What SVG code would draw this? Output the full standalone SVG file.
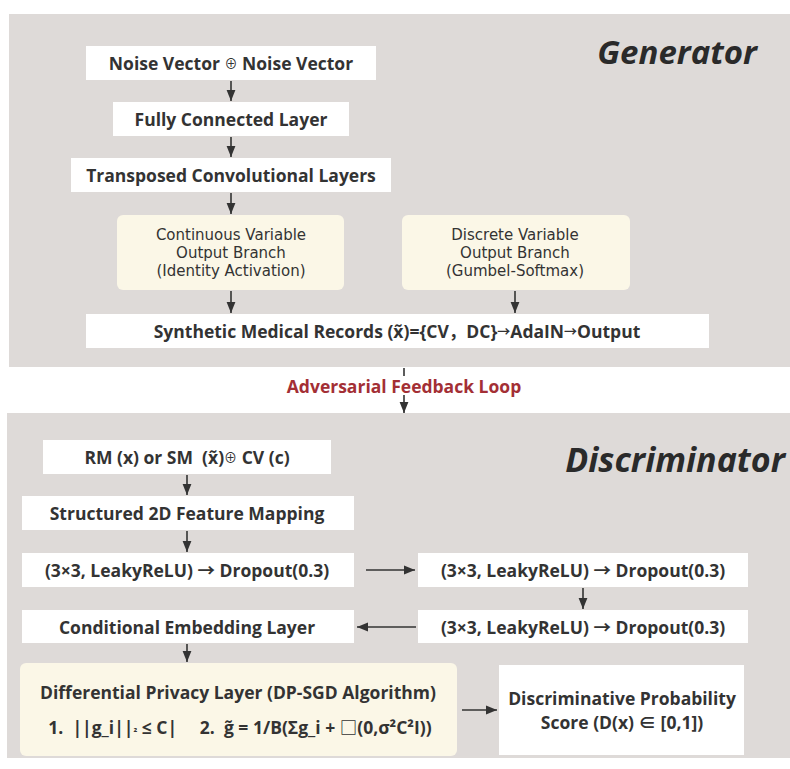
<svg xmlns="http://www.w3.org/2000/svg" width="790" height="769" viewBox="0 0 790 769">
<defs>
<marker id="ah" viewBox="0 0 10 10" refX="10" refY="5" markerWidth="11" markerHeight="11" markerUnits="userSpaceOnUse" orient="auto">
<path d="M0,1 L10,5 L0,9 Z" fill="#333"/>
</marker>
</defs>
<style>
.panel{fill:#dedad8}
.box{fill:#ffffff}
.cream{fill:#fbf7e7}
.t{font-family:"Open Sans","Noto Sans","Noto Sans CJK SC","DejaVu Sans",sans-serif;font-size:17.5px;font-weight:bold;fill:#333;text-anchor:middle;dominant-baseline:central}
.r{font-family:"DejaVu Sans",sans-serif;font-size:15px;fill:#333;text-anchor:middle;dominant-baseline:central}
.title{font-family:"Open Sans","Noto Sans","DejaVu Sans",sans-serif;font-weight:bold;font-style:italic;fill:#2a2a2a;text-anchor:end}
.c{stroke:#333;stroke-width:1.6;fill:none}
.ca{stroke:#333;stroke-width:1.6;fill:none;marker-end:url(#ah)}
</style>
<rect width="790" height="769" fill="#ffffff"/>
<g id="generator-panel">
<rect class="panel" x="9" y="14" width="781" height="353"/>
<text class="title" x="757" y="64" font-size="33">Generator</text>
</g>
<g id="discriminator-panel">
<rect class="panel" x="7" y="413" width="783" height="345"/>
<text class="title" x="785" y="472" font-size="34">Discriminator</text>
</g>
<g id="noise">
<rect class="box" x="86" y="46" width="290" height="34"/>
<text class="t" x="231" y="63">Noise Vector <tspan font-size="13" font-weight="normal">⊕</tspan> Noise Vector</text>
</g>
<g id="fc">
<rect class="box" x="113" y="102" width="236" height="34"/>
<text class="t" x="231" y="119">Fully Connected Layer</text>
</g>
<g id="tconv">
<rect class="box" x="71" y="158" width="320" height="34"/>
<text class="t" x="231" y="175">Transposed Convolutional Layers</text>
</g>
<g id="cont">
<rect class="cream" x="117" y="215" width="227" height="75" rx="6"/>
<text class="r" x="231" y="235">Continuous Variable</text>
<text class="r" x="231" y="253">Output Branch</text>
<text class="r" x="231" y="271">(Identity Activation)</text>
</g>
<g id="disc-branch">
<rect class="cream" x="402" y="215" width="228" height="75" rx="6"/>
<text class="r" x="515" y="235">Discrete Variable</text>
<text class="r" x="515" y="253">Output Branch</text>
<text class="r" x="515" y="271">(Gumbel-Softmax)</text>
</g>
<g id="synthetic">
<rect class="box" x="86" y="314" width="623" height="34"/>
<text class="t" x="397" y="331">Synthetic Medical Records (x̃)={CV，DC}<tspan font-size="13">→</tspan>AdaIN<tspan font-size="13">→</tspan>Output</text>
</g>
<g id="feedback">
<text class="t" x="404" y="386" style="fill:#a32f35">Adversarial Feedback Loop</text>
</g>
<g id="rm">
<rect class="box" x="43" y="440" width="288" height="34"/>
<text class="t" x="187" y="457" xml:space="preserve">RM (x) or SM  (x̃)<tspan font-size="13" font-weight="normal">⊕</tspan> CV (c)</text>
</g>
<g id="struct">
<rect class="box" x="22" y="496" width="332" height="34"/>
<text class="t" x="187" y="513">Structured 2D Feature Mapping</text>
</g>
<g id="conv1">
<rect class="box" x="22" y="553" width="332" height="34"/>
<text class="t" x="187" y="570">(3×3, LeakyReLU) → Dropout(0.3)</text>
</g>
<g id="conv2">
<rect class="box" x="418" y="553" width="330" height="34"/>
<text class="t" x="583" y="570">(3×3, LeakyReLU) → Dropout(0.3)</text>
</g>
<g id="conv3">
<rect class="box" x="418" y="610" width="330" height="33"/>
<text class="t" x="583" y="627">(3×3, LeakyReLU) → Dropout(0.3)</text>
</g>
<g id="cond">
<rect class="box" x="22" y="610" width="332" height="33"/>
<text class="t" x="187" y="627">Conditional Embedding Layer</text>
</g>
<g id="dp">
<rect class="cream" x="20" y="663" width="437" height="93" rx="6"/>
<text class="t" x="238" y="692">Differential Privacy Layer (DP-SGD Algorithm)</text>
<text class="t" x="240" y="727" xml:space="preserve">1.  ||g_i||<tspan font-size="10">₂</tspan> ≤ C|     2.  g̃ = 1/B(Σg_i + □(0,σ²C²I))</text>
</g>
<g id="score">
<rect class="box" x="499" y="665" width="245" height="90"/>
<text class="t" x="622" y="698">Discriminative Probability</text>
<text class="t" x="622" y="722">Score (D(x) ∈ [0,1])</text>
</g>
<g id="connectors">
<line class="ca" x1="231" y1="81" x2="231" y2="101"/>
<line class="ca" x1="231" y1="137" x2="231" y2="157"/>
<line class="ca" x1="231" y1="193" x2="231" y2="214"/>
<line class="ca" x1="231" y1="291" x2="231" y2="313"/>
<line class="ca" x1="515" y1="291" x2="515" y2="313"/>
<line class="c" x1="404" y1="368" x2="404" y2="376"/>
<line class="ca" x1="404" y1="395" x2="404" y2="413"/>
<line class="ca" x1="187" y1="475" x2="187" y2="495"/>
<line class="ca" x1="187" y1="531" x2="187" y2="552"/>
<line class="ca" x1="366" y1="570" x2="415" y2="570"/>
<line class="ca" x1="583" y1="588" x2="583" y2="609"/>
<line class="ca" x1="416" y1="627" x2="357" y2="627"/>
<line class="ca" x1="187" y1="644" x2="187" y2="662"/>
<line class="ca" x1="462" y1="710" x2="497" y2="710"/>
</g>
</svg>
